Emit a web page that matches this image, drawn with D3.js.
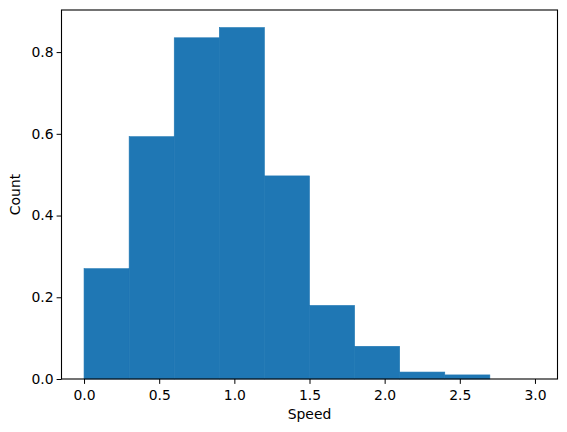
<!DOCTYPE html><html><head><script src="https://cdn.jsdelivr.net/npm/d3@7"></script>
<style>body{margin:0;background:#fff}text{font-family:"DejaVu Sans";}</style></head><body><svg id="c" width="567" height="432"></svg>
<script>
const binEdges=[0,0.3,0.6,0.9,1.2,1.5,1.8,2.1,2.4,2.7,3.0];
const counts=[0.270,0.593,0.835,0.860,0.497,0.180,0.080,0.017,0.010,0.0];
const xTicks=[0,0.5,1,1.5,2,2.5,3];
const yTicks=[0,0.2,0.4,0.6,0.8];
const svg=d3.select("#c");
const L=61.5,R=557.5,T=10,B=379;
const x=d3.scaleLinear().domain([-0.15,3.15]).range([L,R]);
const y=d3.scaleLinear().domain([0,0.903]).range([B,T]);
svg.selectAll("rect.bar").data(counts).enter().append("rect")
 .attr("x",(d,i)=>x(binEdges[i])).attr("width",(d,i)=>x(binEdges[i+1])-x(binEdges[i]))
 .attr("y",d=>y(d)).attr("height",d=>B-y(d)).attr("fill","#1f77b4").attr("stroke","#1f77b4").attr("stroke-width",0.6);
const xa=svg.append("g").attr("transform",`translate(0,${B})`).call(d3.axisBottom(x).tickValues(xTicks).tickFormat(d3.format(".1f")).tickSize(4.9).tickSizeOuter(0));
const ya=svg.append("g").attr("transform",`translate(${L},0)`).call(d3.axisLeft(y).tickValues(yTicks).tickFormat(d3.format(".1f")).tickSize(4.9).tickSizeOuter(0));
[xa,ya].forEach(a=>{a.select(".domain").remove();a.selectAll("text").attr("font-size",13.9).attr("fill","#000").attr("font-family","DejaVu Sans");a.selectAll("line").attr("stroke","#000");});
xa.selectAll("text").attr("dy","0.95em");
svg.append("rect").attr("x",L).attr("y",T).attr("width",R-L).attr("height",B-T).attr("fill","none").attr("stroke","#000").attr("stroke-width",1.1);
svg.append("text").attr("x",(L+R)/2).attr("y",419).attr("text-anchor","middle").attr("font-size",13.9).text("Speed");
svg.append("text").attr("transform",`translate(20,${(T+B)/2}) rotate(-90)`).attr("text-anchor","middle").attr("font-size",13.9).text("Count");
</script></body></html>
